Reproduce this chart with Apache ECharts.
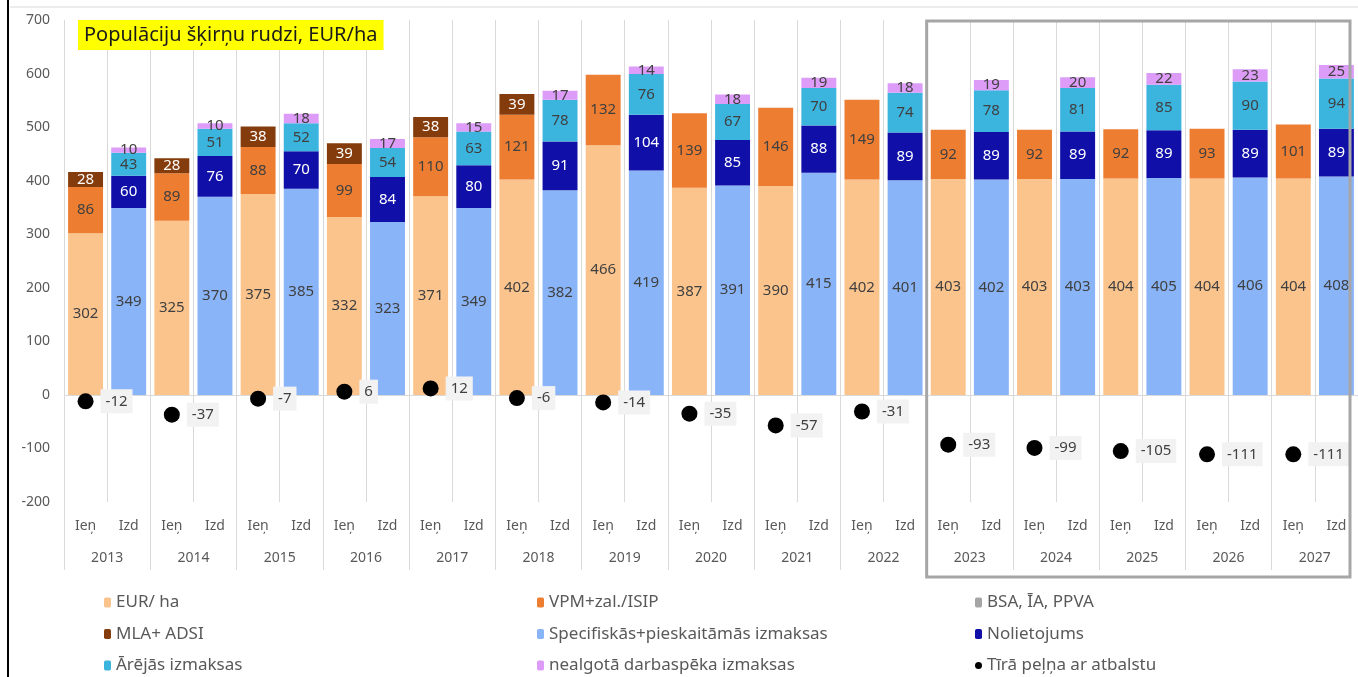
<!DOCTYPE html>
<html>
<head>
<meta charset="utf-8">
<script src="https://cdn.jsdelivr.net/npm/echarts@6/dist/echarts.min.js"></script>
<style>
  html, body { margin: 0; padding: 0; background: #fff; }
  #chart { width: 1358px; height: 677px; }
</style>
</head>
<body>
<div id="chart"></div>
<script>
// gadi un kategorijas
const years = ["2013", "2014", "2015", "2016", "2017", "2018", "2019", "2020",
  "2021", "2022", "2023", "2024", "2025", "2026", "2027"];
const subCats = ["Ieņ", "Izd"];

// ieņēmumi (Ieņ)
const eurHa = [302, 325, 375, 332, 371, 402, 466, 387, 390, 402, 403, 403, 404, 404, 404];
const vpm = [86, 89, 88, 99, 110, 121, 132, 139, 146, 149, 92, 92, 92, 93, 101];
const bsa = [null, null, null, null, null, null, null, null, null, null, null, null, null, null, null];
const mla = [28, 28, 38, 39, 38, 39, null, null, null, null, null, null, null, null, null];

// izmaksas (Izd)
const specifiskas = [349, 370, 385, 323, 349, 382, 419, 391, 415, 401, 402, 403, 405, 406, 408];
const nolietojums = [60, 76, 70, 84, 80, 91, 104, 85, 88, 89, 89, 89, 89, 89, 89];
const arejas = [43, 51, 52, 54, 63, 78, 76, 67, 70, 74, 78, 81, 85, 90, 94];
const nealgota = [10, 10, 18, 17, 15, 17, 14, 18, 19, 18, 19, 20, 22, 23, 25];

// tīrā peļņa
const pelna = [-12, -37, -7, 6, 12, -6, -14, -35, -57, -31, -93, -99, -105, -111, -111];

const yTicks = { min: -200, max: 700, interval: 100 };

const FONT = "'Noto Sans', sans-serif";

// 30 kategorijas: Ieņ, Izd katram gadam
const categories = [];
years.forEach(() => subCats.forEach((s) => categories.push(s)));

// izvieto vērtības pāra (Ieņ) vai nepāra (Izd) pozīcijās
const spread = (arr, slot) => {
  const out = [];
  arr.forEach((v) => {
    const pair = ["-", "-"];
    pair[slot] = v == null ? "-" : v;
    out.push(pair[0], pair[1]);
  });
  return out;
};

const barSeries = (name, arr, slot, color, labelColor) => ({
  name: name,
  type: "bar",
  stack: "total",
  barCategoryGap: "19%",
  data: spread(arr, slot),
  itemStyle: { color: color },
  label: {
    show: true,
    position: "inside",
    color: labelColor,
    fontFamily: FONT,
    fontSize: 15,
  },
  emphasis: { disabled: true },
});

const chart = echarts.init(document.getElementById("chart"));

const legendText = { color: "#595959", fontFamily: FONT, fontSize: 17 };
const legendBase = {
  orient: "vertical",
  top: 594,
  height: 83,
  padding: 0,
  itemWidth: 7,
  itemHeight: 10,
  itemGap: 14.5,
  textStyle: legendText,
  selectedMode: false,
};

const option = {
  animation: false,
  backgroundColor: "#fff",
  title: {
    text: "Populāciju šķirņu rudzi, EUR/ha",
    left: 78,
    top: 20,
    backgroundColor: "#ffff00",
    padding: [5, 6, 5, 6],
    textStyle: { color: "#1a1a1a", fontFamily: FONT, fontSize: 20, fontWeight: "normal" },
  },
  legend: [
    Object.assign({}, legendBase, { left: 104, data: ["EUR/ ha", "MLA+ ADSI", "Ārējās izmaksas"] }),
    Object.assign({}, legendBase, { left: 537, data: ["VPM+zal./ISIP", "Specifiskās+pieskaitāmās izmaksas", "nealgotā darbaspēka izmaksas"] }),
    Object.assign({}, legendBase, { left: 975, data: ["BSA, ĪA, PPVA", "Nolietojums", { name: "Tīrā peļņa ar atbalstu", icon: "circle" }] }),
  ],
  grid: { left: 64, right: 0, top: 20, bottom: 175 },
  xAxis: [
    {
      type: "category",
      data: categories,
      position: "bottom",
      axisLine: { show: false, onZero: false },
      axisTick: { show: false },
      splitLine: { show: true, interval: 0, lineStyle: { color: "#d9d9d9", width: 1 } },
      axisLabel: { interval: 0, margin: 17, color: "#595959", fontFamily: FONT, fontSize: 14 },
    },
    {
      type: "category",
      data: years,
      position: "bottom",
      axisLine: { show: false, onZero: false },
      axisTick: { show: true, interval: 0, length: 68, lineStyle: { color: "#d9d9d9" } },
      axisLabel: { interval: 0, margin: 49, color: "#595959", fontFamily: FONT, fontSize: 14 },
    },
  ],
  yAxis: {
    type: "value",
    min: yTicks.min,
    max: yTicks.max,
    interval: yTicks.interval,
    axisLine: { show: false },
    axisTick: { show: false },
    splitLine: { show: false },
    axisLabel: { color: "#595959", fontFamily: FONT, fontSize: 14, margin: 14 },
  },
  series: [
    Object.assign(barSeries("EUR/ ha", eurHa, 0, "#fcc48d", "#404040"), {
      markLine: {
        silent: true,
        symbol: "none",
        label: { show: false },
        lineStyle: { color: "#d9d9d9", type: "solid", width: 1 },
        data: [{ yAxis: 0 }],
      },
    }),
    barSeries("VPM+zal./ISIP", vpm, 0, "#ed7d31", "#404040"),
    barSeries("BSA, ĪA, PPVA", bsa, 0, "#a5a5a5", "#404040"),
    barSeries("MLA+ ADSI", mla, 0, "#843c0c", "#ffffff"),
    barSeries("Specifiskās+pieskaitāmās izmaksas", specifiskas, 1, "#8ab4f8", "#404040"),
    barSeries("Nolietojums", nolietojums, 1, "#1010a8", "#ffffff"),
    barSeries("Ārējās izmaksas", arejas, 1, "#3bb4de", "#404040"),
    barSeries("nealgotā darbaspēka izmaksas", nealgota, 1, "#dd9cf7", "#404040"),
    {
      name: "Tīrā peļņa ar atbalstu",
      type: "scatter",
      data: spread(pelna, 0),
      symbolSize: 16,
      itemStyle: { color: "#000000", opacity: 1 },
      z: 5,
      label: {
        show: true,
        position: "right",
        distance: 7,
        color: "#404040",
        backgroundColor: "#f2f2f2",
        padding: [5, 5, 4, 5],
        fontFamily: FONT,
        fontSize: 15,
      },
      emphasis: { disabled: true },
    },
  ],
};

chart.setOption(option);

// pelēkais rāmis ap prognozes gadiem un lapas malas
const firstForecast = years.indexOf("2023") * 2;
const c0 = chart.convertToPixel({ xAxisIndex: 0 }, firstForecast);
const c1 = chart.convertToPixel({ xAxisIndex: 0 }, firstForecast + 1);
const boxLeft = c0 - (c1 - c0) / 2;
const boxTop = chart.convertToPixel({ yAxisIndex: 0 }, yTicks.max) + 1;

chart.setOption({
  graphic: [
    {
      type: "rect",
      shape: { x: boxLeft, y: boxTop, width: 1350 - boxLeft, height: 577 - boxTop },
      style: { fill: "none", stroke: "#a6a6a6", lineWidth: 3 },
      silent: true,
      z: 10,
    },
    {
      type: "line",
      shape: { x1: 10, y1: 7, x2: 1358, y2: 7 },
      style: { stroke: "#d9d9d9", lineWidth: 1 },
      silent: true,
    },
    {
      type: "line",
      shape: { x1: 8, y1: 0, x2: 8, y2: 677 },
      style: { stroke: "#000000", lineWidth: 2 },
      silent: true,
    },
  ],
});
</script>
</body>
</html>
